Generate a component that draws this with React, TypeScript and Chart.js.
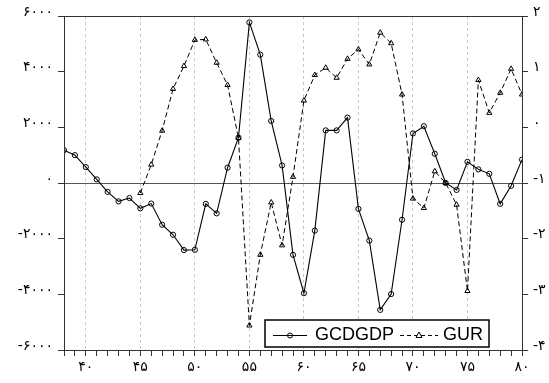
import React, { useEffect, useRef } from 'react';
import { Chart, registerables } from 'chart.js';

Chart.register(...registerables);

const years = [38, 39, 40, 41, 42, 43, 44, 45, 46, 47, 48, 49, 50, 51, 52, 53, 54, 55, 56, 57, 58, 59, 60, 61, 62, 63, 64, 65, 66, 67, 68, 69, 70, 71, 72, 73, 74, 75, 76, 77, 78, 79, 80];

const gcdgdp = [1180, 1000, 570, 130, -320, -660, -540, -910, -740, -1500, -1860, -2410, -2400, -750, -1090, 550, 1630, 5770, 4610, 2230, 630, -2580, -3960, -1710, 1890, 1890, 2350, -930, -2070, -4560, -3990, -1320, 1780, 2040, 1050, 0, -250, 760, 490, 330, -750, -100, 840];

const gurYears = [45, 46, 47, 48, 49, 50, 51, 52, 53, 54, 55, 56, 57, 58, 59, 60, 61, 62, 63, 64, 65, 66, 67, 68, 69, 70, 71, 72, 73, 74, 75, 76, 77, 78, 79, 80];

const gur = [-1.18, -0.67, -0.06, 0.69, 1.10, 1.57, 1.58, 1.16, 0.76, -0.19, -3.56, -2.29, -1.35, -2.12, -0.89, 0.48, 0.94, 1.07, 0.89, 1.23, 1.40, 1.13, 1.70, 1.51, 0.59, -1.28, -1.45, -0.79, -1.00, -1.39, -2.94, 0.85, 0.26, 0.62, 1.05, 0.59];

const leftTicks = [-6000, -4000, -2000, 0, 2000, 4000, 6000];
const rightTicks = [-4, -3, -2, -1, 0, 1, 2];
const seriesNames = ['GCDGDP', 'GUR'];

const FA = '۰۱۲۳۴۵۶۷۸۹';
const toFa = (n: number) => String(n).replace(/\d/g, (d) => FA[+d]);

const xTickFont = { family: '"DejaVu Sans", sans-serif', size: 14 };
const yTickFont = { family: '"DejaVu Sans", sans-serif', size: 14, lineHeight: '8px' };

const frameLegendPlugin = {
  id: 'frameLegend',
  afterDatasetsDraw(chart: any) {
    const { ctx, chartArea } = chart;
    ctx.save();
    ctx.strokeStyle = '#333';
    ctx.lineWidth = 1;
    ctx.strokeRect(Math.round(chartArea.left) + 0.5, Math.round(chartArea.top) + 0.5,
      Math.round(chartArea.right - chartArea.left), Math.round(chartArea.bottom - chartArea.top));
    // legend
    const x0 = chartArea.right - 257;
    const y0 = chartArea.bottom - 30;
    const w = 224;
    const h = 27;
    ctx.fillStyle = '#fff';
    ctx.fillRect(x0, y0, w, h);
    ctx.strokeStyle = '#000';
    ctx.lineWidth = 1.5;
    ctx.strokeRect(x0, y0, w, h);
    const cy = y0 + 15.5;
    ctx.lineWidth = 1;
    ctx.beginPath();
    ctx.moveTo(x0 + 8, cy);
    ctx.lineTo(x0 + 42, cy);
    ctx.stroke();
    ctx.beginPath();
    ctx.arc(x0 + 25, cy, 2.5, 0, Math.PI * 2);
    ctx.stroke();
    ctx.setLineDash([4, 3]);
    ctx.beginPath();
    ctx.moveTo(x0 + 135, cy);
    ctx.lineTo(x0 + 173, cy);
    ctx.stroke();
    ctx.setLineDash([]);
    const tx = x0 + 154;
    ctx.beginPath();
    ctx.moveTo(tx, cy - 3.5);
    ctx.lineTo(tx + 3, cy + 2);
    ctx.lineTo(tx - 3, cy + 2);
    ctx.closePath();
    ctx.fillStyle = '#fff';
    ctx.fill();
    ctx.stroke();
    ctx.fillStyle = '#000';
    ctx.font = '18px "Liberation Sans", Arial, sans-serif';
    ctx.textBaseline = 'middle';
    ctx.textAlign = 'left';
    ctx.fillText(seriesNames[0], x0 + 50, cy);
    ctx.fillText(seriesNames[1], x0 + 178, cy);
    ctx.restore();
  },
};

export default function App() {
  const ref = useRef<HTMLCanvasElement | null>(null);
  useEffect(() => {
    document.body.style.margin = '0';
    const canvas = ref.current;
    if (!canvas) return;
    const chart = new Chart(canvas, {
      type: 'line',
      data: {
        datasets: [
          {
            label: seriesNames[0],
            data: years.map((y, i) => ({ x: y, y: gcdgdp[i] })),
            yAxisID: 'y',
            borderColor: '#000',
            borderWidth: 1.1,
            pointStyle: 'circle',
            pointRadius: 2.6,
            pointBorderColor: '#000',
            pointBackgroundColor: 'rgba(0,0,0,0)',
            pointBorderWidth: 1,
            tension: 0,
          },
          {
            label: seriesNames[1],
            data: gurYears.map((y, i) => ({ x: y, y: gur[i] })),
            yAxisID: 'y2',
            borderColor: '#000',
            borderWidth: 1,
            borderDash: [5, 3],
            pointStyle: 'triangle',
            pointRadius: 3,
            pointBorderColor: '#000',
            pointBackgroundColor: 'rgba(0,0,0,0)',
            pointBorderWidth: 1,
            tension: 0,
          },
        ],
      },
      options: {
        responsive: false,
        animation: false,
        layout: { padding: { top: 16, left: 0, right: 0, bottom: 0 } },
        plugins: { legend: { display: false }, tooltip: { enabled: false } },
        scales: {
          x: {
            type: 'linear',
            min: 38,
            max: 80,
            afterBuildTicks: (s: any) => { s.ticks = years.map((v) => ({ value: v })); },
            afterFit: (s: any) => { s.height = 33; },
            ticks: {
              autoSkip: false,
              maxRotation: 0,
              padding: 3,
              color: '#000',
              font: xTickFont,
              callback: (v: any) => (v % 5 === 0 ? toFa(v) : ''),
            },
            grid: {
              color: (c: any) => (c.tick && c.tick.value % 5 === 0 && c.tick.value !== 80 ? '#c8c8c8' : 'rgba(0,0,0,0)'),
              tickColor: '#333',
              tickLength: 6,
              lineWidth: 1,
            },
            border: { color: '#333', dash: [3, 3] },
          },
          y: {
            position: 'left',
            min: -6000,
            max: 6000,
            afterBuildTicks: (s: any) => { s.ticks = leftTicks.map((v) => ({ value: v })); },
            afterFit: (s: any) => { s.width = 64; },
            ticks: { color: '#000', font: yTickFont, padding: 5, callback: (v: any) => [toFa(v), ''] },
            grid: {
              color: (c: any) => (c.tick && c.tick.value === 0 ? '#555' : 'rgba(0,0,0,0)'),
              tickColor: '#333',
              tickLength: 6,
            },
            border: { color: '#333' },
          },
          y2: {
            position: 'right',
            min: -4,
            max: 2,
            afterBuildTicks: (s: any) => { s.ticks = rightTicks.map((v) => ({ value: v })); },
            afterFit: (s: any) => { s.width = 27; },
            ticks: { color: '#000', font: yTickFont, padding: 5, callback: (v: any) => [toFa(v), ''] },
            grid: { drawOnChartArea: false, tickColor: '#333', tickLength: 6 },
            border: { color: '#333' },
          },
        },
      },
      plugins: [frameLegendPlugin],
    } as any);
    return () => chart.destroy();
  }, []);
  return <canvas ref={ref} width={549} height={383} style={{ display: 'block', width: 549, height: 383 }} />;
}
